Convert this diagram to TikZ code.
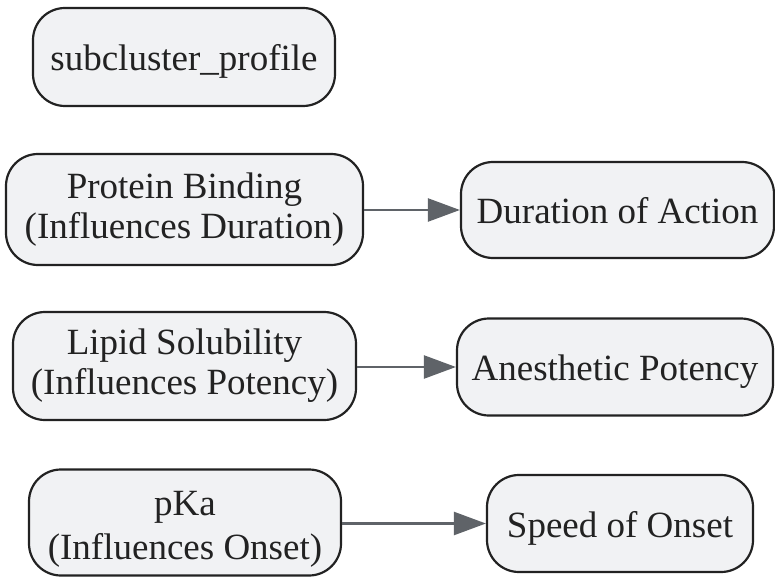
\documentclass[tikz,border=0pt]{standalone}
\usepackage{fontspec}
\setmainfont{Liberation Serif}
\usetikzlibrary{arrows.meta}
\definecolor{boxfill}{HTML}{F1F2F4}
\definecolor{boxline}{HTML}{222222}
\definecolor{arrowc}{HTML}{5F6368}
\begin{document}
\begin{tikzpicture}[x=1pt,y=-1pt,
  box/.style={draw=boxline, fill=boxfill, line width=2.2pt, rounded corners=32pt,
    align=center, inner sep=0pt, font=\fontsize{37}{40}\selectfont, text=boxline},
  oneline/.style={text height=34pt, text depth=7pt},
  plain/.style={inner sep=0pt, align=center, font=\fontsize{37}{44}\selectfont, text=boxline},
  conn/.style={draw=arrowc, line width=2.4pt, -{Triangle[length=32pt,width=23pt]}}]
\useasboundingbox (0,0) rectangle (775,577);
\node[box, oneline, minimum width=302pt, minimum height=98pt] (sub) at (184,57) {subcluster\_profile};
\node[box, minimum width=357pt, minimum height=111pt] (pb) at (184.5,209.5) {Protein Binding\\(Influences Duration)};
\node[box, oneline, minimum width=313pt, minimum height=96pt] (doa) at (617.5,210) {Duration of Action};
\node[box, minimum width=343pt, minimum height=108pt] (ls) at (184.5,366) {Lipid Solubility\\(Influences Potency)};
\node[box, oneline, minimum width=316pt, minimum height=97pt] (ap) at (615,367) {Anesthetic Potency};
\node[box, minimum width=312pt, minimum height=106pt] (pka) at (185,522.5) {};
\node[plain, anchor=north] (pkat) at (185,491.5) {pKa\\(Influences Onset)};
\node[box, oneline, minimum width=266pt, minimum height=97pt] (so) at (620,523.5) {Speed of Onset};
\draw[conn] (pb.east |- doa.west) -- (doa.west);
\draw[conn] (ls.east |- ap.west) -- (ap.west);
\draw[conn] (pka.east |- so.west) -- (so.west);
\end{tikzpicture}
\end{document}
